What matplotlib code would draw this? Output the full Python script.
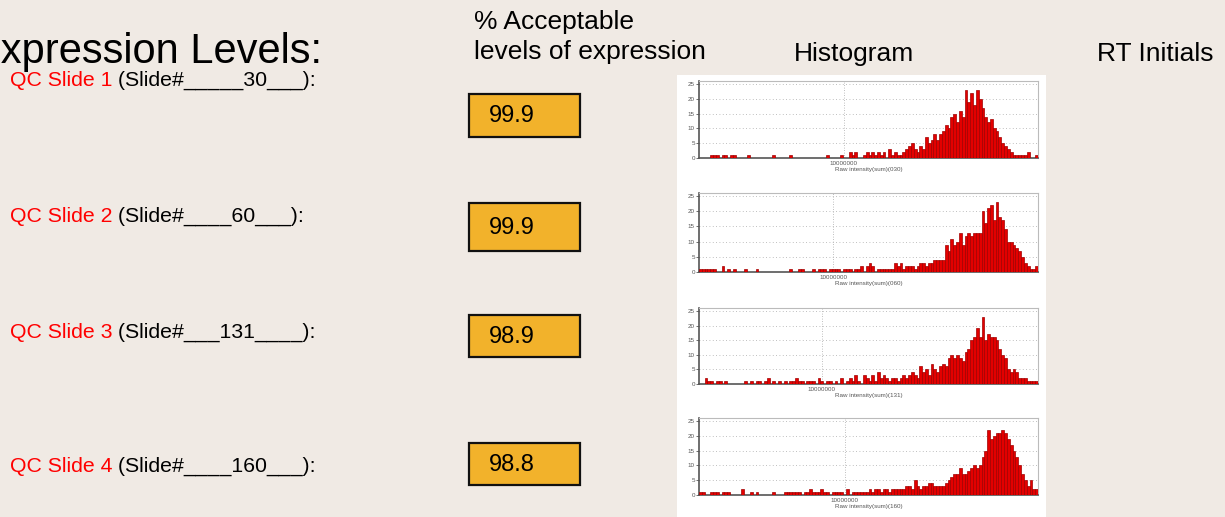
import matplotlib
matplotlib.use("Agg")
import matplotlib.pyplot as plt
from matplotlib.patches import Rectangle
import numpy as np

# ---------------- data ----------------
qc_labels = ["QC Slide 1", "QC Slide 2", "QC Slide 3", "QC Slide 4"]
slide_texts = [" (Slide#_____30___):", " (Slide#____60___):",
               " (Slide#___131____):", " (Slide#____160___):"]
acceptable_pct = ["99.9", "99.9", "98.9", "98.8"]
hist_xlabels = ["Raw intensity(sum)(030)", "Raw intensity(sum)(060)",
                "Raw intensity(sum)(131)", "Raw intensity(sum)(160)"]
hist_tick_label = "10000000"
hist_tick_bin = [51.3, 47.5, 43.4, 51.6]
y_ticks = [0, 5, 10, 15, 20, 25]

hist1 = [0,0,0,0,1,1,1,0,1,1, 0,1,1,0,0,0,0,1,0,0,
         0,0,0,0,0,0,1,0,0,0, 0,0,1,0,0,0,0,0,0,0,
         0,0,0,0,0,1,0,0,0,0, 1,0,0,2,1,2,0,0,1,2,
         1,2,1,2,1,2,0,3,1,2, 1,1,2,3,4,5,3,2,4,3,
         7,5,6,8,6,8,9,11,10,14, 15,12,16,14,23,19,22,18,23,20,
         17,14,12,13,10,9,7,5,4,3, 2,1,1,1,1,1,2,0,0,1]
hist2 = [1,1,1,1,1,1,0,0,2,0, 1,0,1,0,0,0,1,0,0,0,
         1,0,0,0,0,0,0,0,0,0, 0,0,1,0,0,1,1,0,0,0,
         1,0,1,1,1,0,1,1,1,1, 0,1,1,1,0,1,1,2,0,2,
         3,2,0,1,1,1,1,1,1,3, 2,3,1,2,2,2,1,2,3,3,
         2,3,3,4,4,4,4,9,7,11, 9,10,13,9,12,13,12,13,13,13,
         20,16,21,22,17,23,18,17,14,10, 10,9,8,7,5,3,2,1,1,2]
hist3 = [0,0,2,1,1,0,1,1,0,1, 0,0,0,0,0,0,1,0,1,0,
         1,1,0,1,2,0,1,0,1,0, 1,0,1,1,2,1,1,0,1,1,
         1,0,2,1,0,1,1,0,1,0, 2,0,1,2,1,3,1,0,3,2,
         1,3,1,4,2,3,2,1,2,2, 1,2,3,2,3,4,3,2,6,4,
         5,3,7,5,4,6,7,6,9,10, 9,10,9,8,11,12,15,16,19,16,
         23,15,17,16,16,15,12,10,9,5, 4,5,4,2,2,2,1,1,1,1]
hist4 = [1,1,0,0,1,1,1,0,1,1, 1,0,0,0,0,2,0,0,1,0,
         1,0,0,0,0,0,1,0,0,0, 1,1,1,1,1,1,0,1,1,2,
         1,1,1,2,1,1,0,1,1,1, 1,0,2,0,1,1,1,1,1,1,
         2,1,2,2,1,2,2,1,2,2, 2,2,2,3,3,2,5,3,2,3,
         3,4,4,3,3,3,3,4,5,6, 7,7,9,7,7,8,9,10,9,10,
         13,15,22,19,20,21,21,22,21,19, 17,15,13,10,7,5,3,5,2,2]
hists = [hist1, hist2, hist3, hist4]

# ---------------- layout ----------------
W, H = 1225, 517
BG = "#F0EAE4"
fig = plt.figure(figsize=(W / 100, H / 100), dpi=100, facecolor=BG)
plt.rcParams["font.family"] = ["Liberation Sans", "DejaVu Sans"]

ax0 = fig.add_axes([0, 0, 1, 1])
ax0.set_xlim(0, W)
ax0.set_ylim(H, 0)
ax0.axis("off")
ax0.set_facecolor(BG)

# title (its first letter runs off the left edge, as in the slide) and headers
ax0.text(322, 52, "Expression Levels:", fontsize=30, ha="right", va="center", color="black")
ax0.text(474, 22, "% Acceptable", fontsize=19, ha="left", va="center")
ax0.text(474, 52, "levels of expression", fontsize=19, ha="left", va="center")
ax0.text(854, 54, "Histogram", fontsize=19, ha="center", va="center")
ax0.text(1097, 54, "RT Initials", fontsize=19, ha="left", va="center")

# white panel behind histograms
ax0.add_patch(Rectangle((677, 75), 1046 - 677, H - 75, facecolor="white", edgecolor="none"))

row_y = [81, 217, 333, 467]
box_top = [94, 203, 315, 443]
box_h = [43, 48, 42, 42]
for i in range(4):
    t = ax0.text(10, row_y[i], qc_labels[i], fontsize=15.3, color="#FF0000",
                 ha="left", va="center")
    ax0.annotate(slide_texts[i], xy=(1, 0), xycoords=t, fontsize=15.3, color="black",
                 ha="left", va="bottom")
    ax0.add_patch(Rectangle((469, box_top[i]), 111, box_h[i], facecolor="#F2B22B",
                            edgecolor="#111111", linewidth=1.6))
    ax0.text(489, box_top[i] + box_h[i] / 2 + 1, acceptable_pct[i], fontsize=17,
             ha="left", va="center")

# histogram axes (pixel coordinates: top, zero line)
ax_tops = [81, 193, 308, 418]
ax_bots = [158, 272, 384, 495]
x_left, x_right = 699, 1038
for i in range(4):
    b = 1 - ax_bots[i] / H
    h = (ax_bots[i] - ax_tops[i]) / H
    ax = fig.add_axes([x_left / W, b, (x_right - x_left) / W, h])
    ax.set_facecolor("white")
    data = hists[i]
    xs = np.arange(len(data))
    ax.bar(xs, data, width=1.0, align="edge", color="#E30000",
           edgecolor="#A00000", linewidth=0.5, zorder=3)
    ax.set_xlim(0, len(data))
    ax.set_ylim(0, 26)
    for yv in y_ticks[1:]:
        ax.axhline(yv, color="#AAAAAA", linestyle=(0, (1, 3)), linewidth=0.6, zorder=1)
    ax.axvline(hist_tick_bin[i], color="#AAAAAA", linestyle=(0, (1, 2)), linewidth=0.6, zorder=1)
    ax.set_yticks(y_ticks)
    ax.set_yticklabels([str(v) for v in y_ticks])
    ax.set_xticks([hist_tick_bin[i]])
    ax.set_xticklabels([hist_tick_label])
    ax.tick_params(axis="y", labelsize=4.5, length=2, width=0.6, pad=1, colors="#555555")
    ax.tick_params(axis="x", labelsize=4.5, length=0, pad=2, colors="#555555")
    ax.set_xlabel(hist_xlabels[i], fontsize=4.5, color="#555555", labelpad=1)
    for s in ["top", "right"]:
        ax.spines[s].set_color("#BBBBBB")
        ax.spines[s].set_linewidth(0.8)
    for s in ["left", "bottom"]:
        ax.spines[s].set_color("#555555")
        ax.spines[s].set_linewidth(1.2)

fig.savefig("out.png", dpi=100, facecolor=BG)
